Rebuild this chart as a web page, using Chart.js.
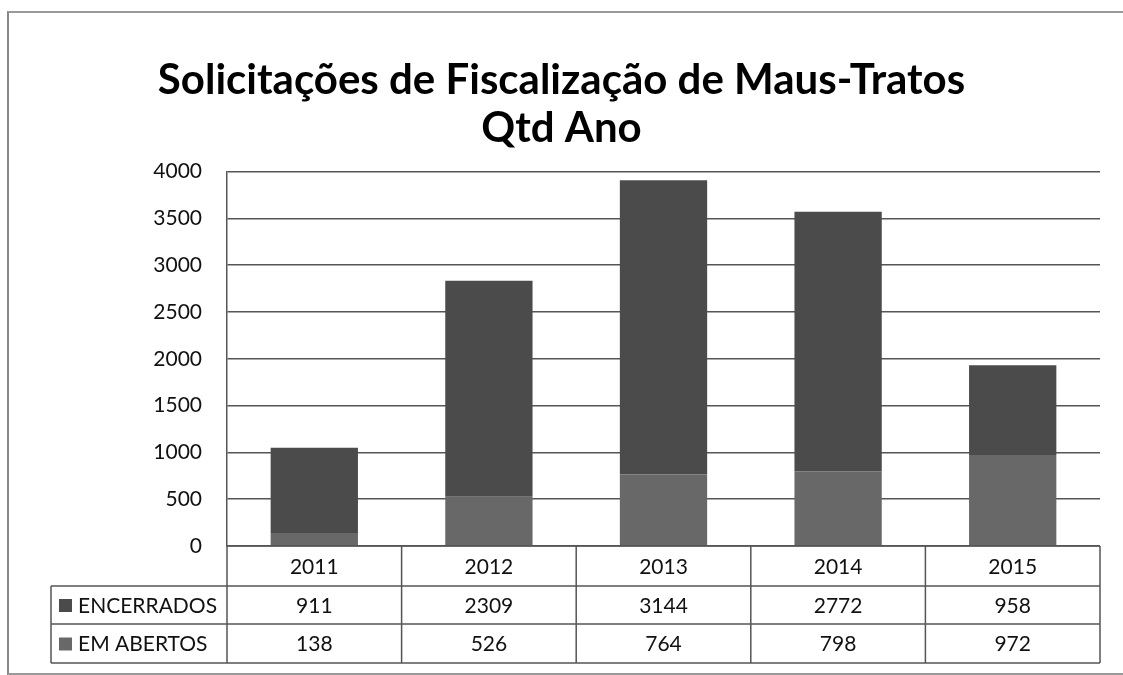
<!DOCTYPE html>
<html>
<head>
<meta charset="utf-8">
<script src="https://cdn.jsdelivr.net/npm/chart.js@4"></script>
<style>
  html, body { margin: 0; background: #fff; overflow: hidden; width: 1123px; height: 675px; }
  #moldura { position: absolute; left: 7px; top: 11px; width: 1114px; height: 660px;
             border-left: 2px solid #888; border-top: 2px solid #999; border-bottom: 2px solid #999; }
  #caixa { position: absolute; left: 0; top: 0; width: 1123px; height: 675px; }
</style>
</head>
<body>
<div id="moldura"></div>
<div id="caixa"><canvas id="grafico" width="1123" height="675"></canvas></div>
<script>
// dados
var anos = ['2011', '2012', '2013', '2014', '2015'];
var encerrados = [911, 2309, 3144, 2772, 958];
var emAbertos = [138, 526, 764, 798, 972];
var nomesSeries = ['ENCERRADOS', 'EM ABERTOS'];
var ticksY = [0, 500, 1000, 1500, 2000, 2500, 3000, 3500, 4000];

var corEncerrados = '#4b4b4b';
var corAbertos = '#686868';
var fonte = 'Lato, "Open Sans", sans-serif';

// tabela de dados embaixo do grafico
var tabelaPlugin = {
    id: 'tabelaDados',
    afterDraw: function (chart) {
        var ctx = chart.ctx;
        var x = chart.scales.x;
        var area = chart.chartArea;
        var alturaLinha = [40, 38, 39];
        var topo = area.bottom;
        var y1 = topo + alturaLinha[0];
        var y2 = y1 + alturaLinha[1];
        var y3 = y2 + alturaLinha[2];
        var esq = 51;
        var larg = (area.right - area.left) / anos.length;

        ctx.save();
        ctx.strokeStyle = '#555';
        ctx.lineWidth = 1.5;
        ctx.beginPath();
        // linhas horizontais
        ctx.moveTo(area.left, topo); ctx.lineTo(area.right, topo);
        ctx.moveTo(esq, y1); ctx.lineTo(area.right, y1);
        ctx.moveTo(esq, y2); ctx.lineTo(area.right, y2);
        ctx.moveTo(esq, y3); ctx.lineTo(area.right, y3);
        // verticais
        ctx.moveTo(esq, y1); ctx.lineTo(esq, y3);
        for (var i = 0; i <= anos.length; i++) {
            var xx = area.left + i * larg;
            ctx.moveTo(xx, topo); ctx.lineTo(xx, y3);
        }
        ctx.stroke();

        ctx.fillStyle = '#111';
        ctx.font = '21px ' + fonte;
        ctx.textAlign = 'center';
        ctx.textBaseline = 'middle';
        for (var j = 0; j < anos.length; j++) {
            var cx = x.getPixelForValue(j);
            ctx.fillText(anos[j], cx, (topo + y1) / 2 + 1);
            ctx.fillText(String(encerrados[j]), cx, (y1 + y2) / 2 + 1);
            ctx.fillText(String(emAbertos[j]), cx, (y2 + y3) / 2 + 1);
        }

        // rotulos com quadradinho da legenda
        var cores = [corEncerrados, corAbertos];
        var linhasY = [(y1 + y2) / 2, (y2 + y3) / 2];
        ctx.textAlign = 'left';
        for (var k = 0; k < nomesSeries.length; k++) {
            ctx.fillStyle = cores[k];
            ctx.fillRect(59, linhasY[k] - 6, 13, 13);
            ctx.fillStyle = '#111';
            ctx.fillText(nomesSeries[k], 78, linhasY[k] + 1);
        }
        ctx.restore();
    }
};

var dados = {
    labels: anos,
    datasets: [{
        label: nomesSeries[1],
        data: emAbertos,
        backgroundColor: corAbertos,
        barPercentage: 0.5,
        categoryPercentage: 1.0
    }, {
        label: nomesSeries[0],
        data: encerrados,
        backgroundColor: corEncerrados,
        barPercentage: 0.5,
        categoryPercentage: 1.0
    }]
};

const config = {
    type: 'bar',
    data: dados,
    options: {
        responsive: false,
        animation: false,
        layout: { padding: { left: 23, right: 23, top: 10, bottom: 129 } },
        plugins: {
            legend: { display: false },
            tooltip: { enabled: false },
            title: {
                display: true,
                text: ['Solicitações de Fiscalização de Maus-Tratos', 'Qtd Ano'],
                color: '#000',
                font: { family: fonte, size: 42, weight: 'bold', lineHeight: 1.15 },
                padding: { top: 46, bottom: 19 }
            }
        },
        scales: {
            x: { stacked: true, display: false },
            y: {
                stacked: true,
                min: 0,
                max: 4000,
                afterBuildTicks: function (scale) {
                    scale.ticks = ticksY.map(function (v) { return { value: v }; });
                },
                afterFit: function (scale) { scale.width = 204; },
                border: { display: true, color: '#555', width: 1.5 },
                grid: { color: '#555', lineWidth: 1.5, drawTicks: false },
                ticks: {
                    color: '#111',
                    padding: 25,
                    font: { family: fonte, size: 21 },
                    callback: function (v) { return String(v); }
                }
            }
        }
    },
    plugins: [tabelaPlugin]
};

const cof = document.getElementById('grafico').getContext('2d');
window.myChart = new Chart(cof, config);
</script>
</body>
</html>
